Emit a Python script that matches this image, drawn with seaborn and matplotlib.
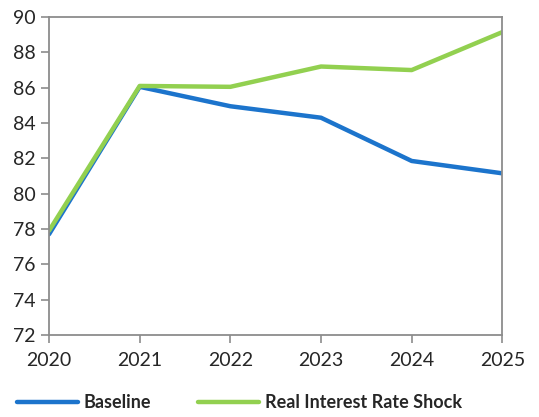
import matplotlib.pyplot as plt
import seaborn as sns
import pandas as pd

years = [2020, 2021, 2022, 2023, 2024, 2025]
baseline = [77.7, 86.05, 84.95, 84.3, 81.85, 81.15]
shock = [77.9, 86.1, 86.05, 87.2, 87.0, 89.15]
series_names = ["Baseline", "Real Interest Rate Shock"]
colors = {"Baseline": "#1C74CC", "Real Interest Rate Shock": "#92D050"}

df = pd.DataFrame({
    "year": years * 2,
    "value": baseline + shock,
    "series": [series_names[0]] * len(years) + [series_names[1]] * len(years),
})

sns.set_style("white")
plt.rcParams["font.family"] = ["Lato", "DejaVu Sans"]

fig, ax = plt.subplots(figsize=(5.39, 4.17), dpi=100)
sns.lineplot(data=df, x="year", y="value", hue="series", palette=colors,
             hue_order=series_names, linewidth=3.2, ax=ax, legend=False)

ax.set_xlim(2020, 2025)
ax.set_ylim(72, 90)
ax.set_yticks(range(72, 91, 2))
ax.set_xticks(years)
ax.set_xlabel("")
ax.set_ylabel("")
for s in ax.spines.values():
    s.set_color("#8c8c8c")
    s.set_linewidth(1.3)
ax.tick_params(axis="both", which="both", direction="out", length=6, width=1.2,
               color="#8c8c8c", labelsize=14, left=True, bottom=True)
ax.tick_params(axis="x", pad=6)

handles = [plt.Line2D([], [], color=colors[n], lw=3.2) for n in series_names]
leg = ax.legend(handles, series_names, loc="upper center", bbox_to_anchor=(0.42, -0.135),
                ncol=2, frameon=False, prop={"weight": "bold", "size": 13},
                handlelength=3.4, columnspacing=2.6, handletextpad=0.3)

fig.subplots_adjust(left=0.091, right=0.932, top=0.959, bottom=0.197)
fig.savefig("out.png", dpi=100)
